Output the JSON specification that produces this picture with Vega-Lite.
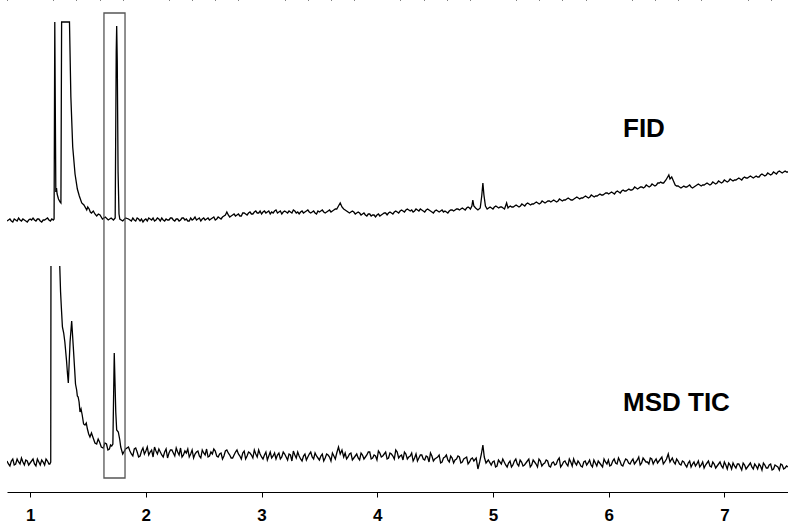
{
  "$schema": "https://vega.github.io/schema/vega-lite/v6.json",
  "width": 781,
  "height": 492,
  "autosize": {"type": "none"},
  "padding": {"left": 7, "top": 0, "right": 0, "bottom": 32},
  "background": "white",
  "config": {
    "view": {"stroke": null},
    "axis": {"grid": false}
  },
  "datasets": {
    "fid": [
      {"t":0.800,"v":271},{"t":0.825,"v":273},{"t":0.850,"v":270},{"t":0.875,"v":272},{"t":0.900,"v":274},
      {"t":0.925,"v":271},{"t":0.950,"v":272},{"t":0.975,"v":270},{"t":1.000,"v":273},{"t":1.025,"v":274},
      {"t":1.050,"v":271},{"t":1.075,"v":273},{"t":1.100,"v":270},{"t":1.125,"v":272},{"t":1.150,"v":274},
      {"t":1.175,"v":271},{"t":1.200,"v":272},{"t":1.207,"v":273},{"t":1.213,"v":470},{"t":1.222,"v":300},
      {"t":1.228,"v":304},{"t":1.233,"v":298},{"t":1.245,"v":293},{"t":1.258,"v":290},{"t":1.266,"v":289},
      {"t":1.272,"v":470},{"t":1.340,"v":470},{"t":1.352,"v":395},{"t":1.368,"v":345},{"t":1.388,"v":318},
      {"t":1.408,"v":303},{"t":1.425,"v":296},{"t":1.446,"v":289},{"t":1.465,"v":287},{"t":1.489,"v":282},
      {"t":1.498,"v":285},{"t":1.510,"v":283},{"t":1.520,"v":280},{"t":1.530,"v":279},{"t":1.546,"v":281},
      {"t":1.560,"v":278},{"t":1.575,"v":276},{"t":1.590,"v":278},{"t":1.604,"v":277},
      {"t":1.625,"v":273},{"t":1.650,"v":275},{"t":1.675,"v":272},{"t":1.700,"v":274},{"t":1.720,"v":272},
      {"t":1.735,"v":274},{"t":1.744,"v":440},{"t":1.748,"v":466},{"t":1.753,"v":430},{"t":1.760,"v":320},
      {"t":1.768,"v":278},{"t":1.775,"v":273},{"t":1.800,"v":271},{"t":1.825,"v":274},
      {"t":1.850,"v":273},{"t":1.875,"v":271},{"t":1.900,"v":272},{"t":1.925,"v":274},{"t":1.950,"v":271},
      {"t":1.975,"v":270},{"t":2.000,"v":273},{"t":2.025,"v":274},{"t":2.050,"v":272},{"t":2.075,"v":271},
      {"t":2.100,"v":274},{"t":2.125,"v":271},{"t":2.150,"v":272},{"t":2.175,"v":273},{"t":2.200,"v":272},
      {"t":2.225,"v":274},{"t":2.250,"v":271},{"t":2.275,"v":273},{"t":2.300,"v":272},{"t":2.325,"v":274},
      {"t":2.350,"v":273},{"t":2.375,"v":271},{"t":2.400,"v":272},{"t":2.425,"v":275},{"t":2.450,"v":273},
      {"t":2.475,"v":271},{"t":2.500,"v":274},{"t":2.525,"v":273},{"t":2.550,"v":272},{"t":2.575,"v":274},
      {"t":2.600,"v":272},{"t":2.625,"v":275},{"t":2.650,"v":273},{"t":2.675,"v":276},{"t":2.700,"v":280},
      {"t":2.725,"v":275},{"t":2.750,"v":277},{"t":2.775,"v":276},{"t":2.800,"v":278},{"t":2.825,"v":276},
      {"t":2.850,"v":279},{"t":2.875,"v":277},{"t":2.900,"v":280},{"t":2.925,"v":278},{"t":2.950,"v":281},
      {"t":2.975,"v":279},{"t":3.000,"v":278},{"t":3.025,"v":281},{"t":3.050,"v":280},{"t":3.075,"v":278},
      {"t":3.100,"v":279},{"t":3.125,"v":282},{"t":3.150,"v":280},{"t":3.175,"v":278},{"t":3.200,"v":281},
      {"t":3.225,"v":279},{"t":3.250,"v":280},{"t":3.275,"v":282},{"t":3.300,"v":279},{"t":3.325,"v":278},
      {"t":3.350,"v":281},{"t":3.375,"v":280},{"t":3.400,"v":282},{"t":3.425,"v":279},{"t":3.450,"v":281},
      {"t":3.475,"v":278},{"t":3.500,"v":280},{"t":3.525,"v":282},{"t":3.550,"v":279},{"t":3.575,"v":281},
      {"t":3.600,"v":280},{"t":3.625,"v":282},{"t":3.650,"v":283},{"t":3.665,"v":286},{"t":3.680,"v":289},
      {"t":3.695,"v":285},{"t":3.710,"v":283},{"t":3.735,"v":281},{"t":3.760,"v":279},{"t":3.785,"v":281},
      {"t":3.810,"v":278},{"t":3.835,"v":280},{"t":3.860,"v":277},{"t":3.885,"v":279},{"t":3.910,"v":276},
      {"t":3.935,"v":278},{"t":3.960,"v":277},{"t":3.985,"v":275},{"t":4.010,"v":278},{"t":4.035,"v":277},
      {"t":4.060,"v":279},{"t":4.085,"v":277},{"t":4.110,"v":280},{"t":4.135,"v":278},{"t":4.160,"v":281},
      {"t":4.185,"v":279},{"t":4.210,"v":282},{"t":4.235,"v":280},{"t":4.260,"v":283},{"t":4.285,"v":281},
      {"t":4.310,"v":280},{"t":4.335,"v":283},{"t":4.360,"v":281},{"t":4.385,"v":282},{"t":4.410,"v":280},
      {"t":4.435,"v":283},{"t":4.460,"v":281},{"t":4.485,"v":279},{"t":4.510,"v":282},{"t":4.535,"v":280},
      {"t":4.560,"v":282},{"t":4.585,"v":281},{"t":4.610,"v":279},{"t":4.635,"v":282},{"t":4.660,"v":281},
      {"t":4.685,"v":283},{"t":4.710,"v":282},{"t":4.735,"v":284},{"t":4.760,"v":282},{"t":4.785,"v":285},
      {"t":4.805,"v":283},{"t":4.818,"v":286},{"t":4.826,"v":292},{"t":4.835,"v":286},{"t":4.850,"v":284},
      {"t":4.870,"v":282},{"t":4.890,"v":284},{"t":4.903,"v":296},{"t":4.913,"v":309},{"t":4.922,"v":297},
      {"t":4.935,"v":286},{"t":4.950,"v":283},{"t":4.975,"v":285},{"t":5.000,"v":283},{"t":5.025,"v":286},
      {"t":5.050,"v":284},{"t":5.075,"v":285},{"t":5.100,"v":283},{"t":5.118,"v":289},{"t":5.130,"v":284},
      {"t":5.150,"v":286},{"t":5.175,"v":285},{"t":5.200,"v":287},{"t":5.225,"v":285},{"t":5.250,"v":288},
      {"t":5.275,"v":286},{"t":5.300,"v":289},{"t":5.325,"v":287},{"t":5.350,"v":288},{"t":5.375,"v":290},
      {"t":5.400,"v":288},{"t":5.425,"v":291},{"t":5.450,"v":289},{"t":5.475,"v":291},{"t":5.500,"v":290},
      {"t":5.525,"v":292},{"t":5.550,"v":290},{"t":5.575,"v":293},{"t":5.600,"v":291},{"t":5.625,"v":292},
      {"t":5.650,"v":294},{"t":5.675,"v":292},{"t":5.700,"v":293},{"t":5.725,"v":295},{"t":5.750,"v":293},
      {"t":5.775,"v":294},{"t":5.800,"v":296},{"t":5.825,"v":294},{"t":5.850,"v":297},{"t":5.875,"v":295},
      {"t":5.900,"v":296},{"t":5.925,"v":298},{"t":5.950,"v":297},{"t":5.975,"v":299},{"t":6.000,"v":298},
      {"t":6.025,"v":300},{"t":6.050,"v":298},{"t":6.075,"v":301},{"t":6.100,"v":299},{"t":6.125,"v":302},
      {"t":6.150,"v":301},{"t":6.175,"v":303},{"t":6.200,"v":302},{"t":6.225,"v":305},{"t":6.250,"v":303},
      {"t":6.275,"v":305},{"t":6.300,"v":304},{"t":6.325,"v":307},{"t":6.350,"v":305},{"t":6.375,"v":308},
      {"t":6.400,"v":306},{"t":6.425,"v":309},{"t":6.450,"v":310},{"t":6.475,"v":309},{"t":6.495,"v":312},
      {"t":6.510,"v":315},{"t":6.520,"v":317},{"t":6.530,"v":313},{"t":6.545,"v":315},{"t":6.560,"v":311},
      {"t":6.575,"v":307},{"t":6.600,"v":306},{"t":6.625,"v":304},{"t":6.650,"v":306},{"t":6.675,"v":305},
      {"t":6.700,"v":307},{"t":6.725,"v":304},{"t":6.750,"v":306},{"t":6.775,"v":308},{"t":6.800,"v":306},
      {"t":6.825,"v":307},{"t":6.850,"v":309},{"t":6.875,"v":307},{"t":6.900,"v":310},{"t":6.925,"v":308},
      {"t":6.950,"v":311},{"t":6.975,"v":309},{"t":7.000,"v":312},{"t":7.025,"v":310},{"t":7.050,"v":313},
      {"t":7.075,"v":311},{"t":7.100,"v":312},{"t":7.125,"v":314},{"t":7.150,"v":312},{"t":7.175,"v":315},
      {"t":7.200,"v":314},{"t":7.225,"v":316},{"t":7.250,"v":314},{"t":7.275,"v":316},{"t":7.300,"v":315},
      {"t":7.325,"v":318},{"t":7.350,"v":316},{"t":7.375,"v":319},{"t":7.400,"v":317},{"t":7.425,"v":320},
      {"t":7.450,"v":318},{"t":7.475,"v":321},{"t":7.500,"v":319},{"t":7.525,"v":321},{"t":7.550,"v":320},
      {"t":0.8125,"v":272},{"t":0.8375,"v":271},{"t":0.8625,"v":273},{"t":0.8875,"v":271},{"t":0.9125,"v":272},
      {"t":0.9375,"v":273},{"t":0.9625,"v":271},{"t":0.9875,"v":272},{"t":1.0125,"v":272},{"t":1.0375,"v":272},
      {"t":1.0625,"v":273},{"t":1.0875,"v":271},{"t":1.1125,"v":272},{"t":1.1375,"v":273},{"t":1.1625,"v":272},
      {"t":1.1875,"v":273},
      {"t":1.8625,"v":272},{"t":1.8875,"v":274},{"t":1.9125,"v":271},{"t":1.9375,"v":273},{"t":1.9625,"v":273},
      {"t":1.9875,"v":272},{"t":2.0125,"v":271},{"t":2.0375,"v":273},{"t":2.0625,"v":274},{"t":2.0875,"v":272},
      {"t":2.1125,"v":273},{"t":2.1375,"v":274},{"t":2.1625,"v":271},{"t":2.1875,"v":272},{"t":2.2125,"v":274},
      {"t":2.2375,"v":272},{"t":2.2625,"v":273},{"t":2.2875,"v":271},{"t":2.3125,"v":274},{"t":2.3375,"v":272},
      {"t":2.3625,"v":271},{"t":2.3875,"v":274},{"t":2.4125,"v":273},{"t":2.4375,"v":272},{"t":2.4625,"v":274},
      {"t":2.4875,"v":273},{"t":2.5125,"v":272},{"t":2.5375,"v":274},{"t":2.5625,"v":273},{"t":2.5875,"v":275},
      {"t":2.6125,"v":273},{"t":2.6375,"v":274},{"t":2.6625,"v":275},{"t":2.6875,"v":277},{"t":2.7125,"v":277},
      {"t":2.7375,"v":276},{"t":2.7625,"v":278},{"t":2.7875,"v":277},{"t":2.8125,"v":276},{"t":2.8375,"v":279},
      {"t":2.8625,"v":278},{"t":2.8875,"v":279},{"t":2.9125,"v":278},{"t":2.9375,"v":280},{"t":2.9625,"v":279},
      {"t":2.9875,"v":281},{"t":3.0125,"v":280},{"t":3.0375,"v":279},{"t":3.0625,"v":281},{"t":3.0875,"v":280},
      {"t":3.1125,"v":281},{"t":3.1375,"v":279},{"t":3.1625,"v":281},{"t":3.1875,"v":280},{"t":3.2125,"v":280},
      {"t":3.2375,"v":281},{"t":3.2625,"v":279},{"t":3.2875,"v":281},{"t":3.3125,"v":280},{"t":3.3375,"v":280},
      {"t":3.3625,"v":279},{"t":3.3875,"v":281},{"t":3.4125,"v":280},{"t":3.4375,"v":280},{"t":3.4625,"v":279},
      {"t":3.4875,"v":281},{"t":3.5125,"v":281},{"t":3.5375,"v":280},{"t":3.5625,"v":280},{"t":3.5875,"v":282},
      {"t":3.6125,"v":281},{"t":3.6375,"v":283},
      {"t":3.7225,"v":282},{"t":3.7475,"v":280},{"t":3.7725,"v":280},{"t":3.7975,"v":280},{"t":3.8225,"v":279},
      {"t":3.8475,"v":279},{"t":3.8725,"v":278},{"t":3.8975,"v":277},{"t":3.9225,"v":278},{"t":3.9475,"v":276},
      {"t":3.9725,"v":277},{"t":3.9975,"v":277},{"t":4.0225,"v":276},{"t":4.0475,"v":278},{"t":4.0725,"v":279},
      {"t":4.0975,"v":279},{"t":4.1225,"v":279},{"t":4.1475,"v":280},{"t":4.1725,"v":280},{"t":4.1975,"v":281},
      {"t":4.2225,"v":281},{"t":4.2475,"v":282},{"t":4.2725,"v":282},{"t":4.2975,"v":282},{"t":4.3225,"v":281},
      {"t":4.3475,"v":282},{"t":4.3725,"v":283},{"t":4.3975,"v":281},{"t":4.4225,"v":282},{"t":4.4475,"v":282},
      {"t":4.4725,"v":280},{"t":4.4975,"v":281},{"t":4.5225,"v":281},{"t":4.5475,"v":281},{"t":4.5725,"v":280},
      {"t":4.5975,"v":280},{"t":4.6225,"v":281},{"t":4.6475,"v":282},{"t":4.6725,"v":282},{"t":4.6975,"v":283},
      {"t":4.7225,"v":283},{"t":4.7475,"v":283},{"t":4.7725,"v":284},{"t":4.7975,"v":284},
      {"t":4.9875,"v":284},{"t":5.0125,"v":285},{"t":5.0375,"v":285},{"t":5.0625,"v":285},{"t":5.0875,"v":284},
      {"t":5.1375,"v":285},{"t":5.1625,"v":285},{"t":5.1875,"v":286},{"t":5.2125,"v":286},{"t":5.2375,"v":286},
      {"t":5.2625,"v":287},{"t":5.2875,"v":288},{"t":5.3125,"v":288},{"t":5.3375,"v":288},{"t":5.3625,"v":289},
      {"t":5.3875,"v":289},{"t":5.4125,"v":289},{"t":5.4375,"v":290},{"t":5.4625,"v":290},{"t":5.4875,"v":291},
      {"t":5.5125,"v":291},{"t":5.5375,"v":291},{"t":5.5625,"v":291},{"t":5.5875,"v":292},{"t":5.6125,"v":292},
      {"t":5.6375,"v":293},{"t":5.6625,"v":293},{"t":5.6875,"v":292},{"t":5.7125,"v":294},{"t":5.7375,"v":294},
      {"t":5.7625,"v":294},{"t":5.7875,"v":295},{"t":5.8125,"v":295},{"t":5.8375,"v":295},{"t":5.8625,"v":296},
      {"t":5.8875,"v":296},{"t":5.9125,"v":297},{"t":5.9375,"v":297},{"t":5.9625,"v":298},{"t":5.9875,"v":299},
      {"t":6.0125,"v":299},{"t":6.0375,"v":299},{"t":6.0625,"v":300},{"t":6.0875,"v":300},{"t":6.1125,"v":301},
      {"t":6.1375,"v":301},{"t":6.1625,"v":302},{"t":6.1875,"v":302},{"t":6.2125,"v":303},{"t":6.2375,"v":304},
      {"t":6.2625,"v":304},{"t":6.2875,"v":305},{"t":6.3125,"v":305},{"t":6.3375,"v":306},{"t":6.3625,"v":306},
      {"t":6.3875,"v":307},{"t":6.4125,"v":307},{"t":6.4375,"v":309},{"t":6.4625,"v":309},
      {"t":6.5875,"v":306},{"t":6.6125,"v":305},{"t":6.6375,"v":305},{"t":6.6625,"v":305},{"t":6.6875,"v":306},
      {"t":6.7125,"v":305},{"t":6.7375,"v":305},{"t":6.7625,"v":307},{"t":6.7875,"v":307},{"t":6.8125,"v":307},
      {"t":6.8375,"v":308},{"t":6.8625,"v":308},{"t":6.8875,"v":308},{"t":6.9125,"v":309},{"t":6.9375,"v":309},
      {"t":6.9625,"v":310},{"t":6.9875,"v":310},{"t":7.0125,"v":311},{"t":7.0375,"v":311},{"t":7.0625,"v":312},
      {"t":7.0875,"v":312},{"t":7.1125,"v":313},{"t":7.1375,"v":313},{"t":7.1625,"v":314},{"t":7.1875,"v":314},
      {"t":7.2125,"v":315},{"t":7.2375,"v":315},{"t":7.2625,"v":315},{"t":7.2875,"v":315},{"t":7.3125,"v":317},
      {"t":7.3375,"v":317},{"t":7.3625,"v":317},{"t":7.3875,"v":318},{"t":7.4125,"v":318},{"t":7.4375,"v":319},
      {"t":7.4625,"v":320},{"t":7.4875,"v":320},{"t":7.5125,"v":320},{"t":7.5375,"v":320}
    ],
    "msd": [
      {"t":0.800,"v":31},{"t":0.825,"v":26},{"t":0.850,"v":33},{"t":0.875,"v":28},{"t":0.900,"v":30},
      {"t":0.925,"v":34},{"t":0.950,"v":27},{"t":0.975,"v":31},{"t":1.000,"v":29},{"t":1.025,"v":33},
      {"t":1.050,"v":26},{"t":1.075,"v":30},{"t":1.100,"v":32},{"t":1.125,"v":27},{"t":1.150,"v":31},
      {"t":1.170,"v":28},{"t":1.178,"v":30},{"t":1.180,"v":226},{"t":1.220,"v":null},
      {"t":1.256,"v":226},{"t":1.263,"v":200},{"t":1.270,"v":184},{"t":1.279,"v":165},{"t":1.290,"v":159},
      {"t":1.300,"v":150},{"t":1.314,"v":132},{"t":1.323,"v":118},{"t":1.330,"v":109},{"t":1.345,"v":150},
      {"t":1.359,"v":171},{"t":1.366,"v":158},{"t":1.373,"v":145},{"t":1.385,"v":122},{"t":1.392,"v":108},
      {"t":1.402,"v":102},{"t":1.408,"v":96},{"t":1.415,"v":95},{"t":1.423,"v":90},{"t":1.431,"v":80},
      {"t":1.440,"v":83},{"t":1.450,"v":77},{"t":1.462,"v":68},{"t":1.474,"v":67},{"t":1.485,"v":69},
      {"t":1.495,"v":63},{"t":1.506,"v":58},{"t":1.517,"v":55},{"t":1.530,"v":59},{"t":1.545,"v":54},
      {"t":1.560,"v":49},{"t":1.575,"v":48},{"t":1.588,"v":53},{"t":1.600,"v":50},{"t":1.615,"v":45},
      {"t":1.632,"v":44},{"t":1.646,"v":49},{"t":1.660,"v":48},{"t":1.672,"v":42},{"t":1.685,"v":43},
      {"t":1.695,"v":47},{"t":1.705,"v":46},{"t":1.715,"v":48},{"t":1.727,"v":139},
      {"t":1.740,"v":80},{"t":1.748,"v":62},{"t":1.762,"v":60},{"t":1.775,"v":52},{"t":1.783,"v":45},
      {"t":1.800,"v":38},{"t":1.825,"v":43},
      {"t":1.850,"v":45},{"t":1.875,"v":38},{"t":1.900,"v":43},{"t":1.925,"v":40},{"t":1.950,"v":36},
      {"t":1.975,"v":44},{"t":2.000,"v":41},{"t":2.025,"v":37},{"t":2.050,"v":42},{"t":2.075,"v":45},
      {"t":2.100,"v":38},{"t":2.125,"v":40},{"t":2.150,"v":35},{"t":2.175,"v":43},{"t":2.200,"v":39},
      {"t":2.225,"v":42},{"t":2.250,"v":36},{"t":2.275,"v":40},{"t":2.300,"v":44},{"t":2.325,"v":37},
      {"t":2.350,"v":39},{"t":2.375,"v":35},{"t":2.400,"v":42},{"t":2.425,"v":38},{"t":2.450,"v":41},
      {"t":2.475,"v":34},{"t":2.500,"v":39},{"t":2.525,"v":43},{"t":2.550,"v":36},{"t":2.575,"v":38},
      {"t":2.600,"v":41},{"t":2.625,"v":35},{"t":2.650,"v":39},{"t":2.675,"v":36},{"t":2.700,"v":42},
      {"t":2.725,"v":37},{"t":2.750,"v":34},{"t":2.775,"v":40},{"t":2.800,"v":38},{"t":2.825,"v":33},
      {"t":2.850,"v":41},{"t":2.875,"v":36},{"t":2.900,"v":39},{"t":2.925,"v":34},{"t":2.950,"v":38},
      {"t":2.975,"v":42},{"t":3.000,"v":35},{"t":3.025,"v":37},{"t":3.050,"v":32},{"t":3.075,"v":40},
      {"t":3.100,"v":36},{"t":3.125,"v":33},{"t":3.150,"v":39},{"t":3.175,"v":35},{"t":3.200,"v":38},
      {"t":3.225,"v":32},{"t":3.250,"v":37},{"t":3.275,"v":41},{"t":3.300,"v":34},{"t":3.325,"v":36},
      {"t":3.350,"v":31},{"t":3.375,"v":38},{"t":3.400,"v":35},{"t":3.425,"v":40},{"t":3.450,"v":33},
      {"t":3.475,"v":36},{"t":3.500,"v":32},{"t":3.525,"v":38},{"t":3.550,"v":34},{"t":3.575,"v":37},
      {"t":3.600,"v":31},{"t":3.625,"v":36},{"t":3.650,"v":39},{"t":3.665,"v":45},{"t":3.680,"v":38},
      {"t":3.695,"v":42},{"t":3.710,"v":35},{"t":3.735,"v":33},{"t":3.760,"v":38},{"t":3.785,"v":32},
      {"t":3.810,"v":36},{"t":3.835,"v":34},{"t":3.860,"v":39},{"t":3.885,"v":33},{"t":3.910,"v":37},
      {"t":3.935,"v":40},{"t":3.960,"v":34},{"t":3.985,"v":36},{"t":4.010,"v":41},{"t":4.035,"v":35},
      {"t":4.060,"v":38},{"t":4.085,"v":33},{"t":4.110,"v":39},{"t":4.135,"v":36},{"t":4.160,"v":42},
      {"t":4.185,"v":34},{"t":4.210,"v":37},{"t":4.235,"v":40},{"t":4.260,"v":33},{"t":4.285,"v":36},
      {"t":4.310,"v":31},{"t":4.335,"v":38},{"t":4.360,"v":34},{"t":4.385,"v":37},{"t":4.410,"v":32},
      {"t":4.435,"v":35},{"t":4.460,"v":39},{"t":4.485,"v":31},{"t":4.510,"v":34},{"t":4.535,"v":37},
      {"t":4.560,"v":30},{"t":4.585,"v":35},{"t":4.610,"v":32},{"t":4.635,"v":36},{"t":4.660,"v":29},
      {"t":4.685,"v":33},{"t":4.710,"v":35},{"t":4.735,"v":30},{"t":4.760,"v":34},{"t":4.785,"v":28},
      {"t":4.810,"v":33},{"t":4.835,"v":31},{"t":4.855,"v":34},{"t":4.870,"v":23},{"t":4.885,"v":30},
      {"t":4.900,"v":38},{"t":4.913,"v":47},{"t":4.925,"v":35},{"t":4.940,"v":29},{"t":4.960,"v":32},
      {"t":4.985,"v":27},{"t":5.010,"v":31},{"t":5.035,"v":26},{"t":5.060,"v":30},{"t":5.085,"v":33},
      {"t":5.110,"v":27},{"t":5.135,"v":29},{"t":5.160,"v":25},{"t":5.185,"v":31},{"t":5.210,"v":28},
      {"t":5.235,"v":32},{"t":5.260,"v":26},{"t":5.285,"v":29},{"t":5.310,"v":33},{"t":5.335,"v":27},
      {"t":5.360,"v":30},{"t":5.385,"v":25},{"t":5.410,"v":31},{"t":5.435,"v":28},{"t":5.460,"v":32},
      {"t":5.485,"v":26},{"t":5.510,"v":29},{"t":5.535,"v":27},{"t":5.560,"v":32},{"t":5.585,"v":25},
      {"t":5.610,"v":30},{"t":5.635,"v":28},{"t":5.660,"v":33},{"t":5.685,"v":26},{"t":5.710,"v":29},
      {"t":5.735,"v":31},{"t":5.760,"v":26},{"t":5.785,"v":30},{"t":5.810,"v":27},{"t":5.835,"v":32},
      {"t":5.860,"v":25},{"t":5.885,"v":29},{"t":5.910,"v":31},{"t":5.935,"v":27},{"t":5.960,"v":33},
      {"t":5.985,"v":28},{"t":6.010,"v":26},{"t":6.035,"v":31},{"t":6.060,"v":29},{"t":6.085,"v":34},
      {"t":6.110,"v":27},{"t":6.135,"v":30},{"t":6.160,"v":32},{"t":6.185,"v":28},{"t":6.210,"v":33},
      {"t":6.235,"v":30},{"t":6.260,"v":35},{"t":6.285,"v":29},{"t":6.310,"v":32},{"t":6.335,"v":30},
      {"t":6.360,"v":34},{"t":6.385,"v":28},{"t":6.410,"v":33},{"t":6.435,"v":31},{"t":6.460,"v":35},
      {"t":6.485,"v":30},{"t":6.500,"v":33},{"t":6.515,"v":38},{"t":6.530,"v":30},{"t":6.550,"v":34},
      {"t":6.575,"v":28},{"t":6.600,"v":31},{"t":6.625,"v":27},{"t":6.650,"v":30},{"t":6.675,"v":25},
      {"t":6.700,"v":31},{"t":6.725,"v":28},{"t":6.750,"v":26},{"t":6.775,"v":31},{"t":6.800,"v":27},
      {"t":6.825,"v":24},{"t":6.850,"v":29},{"t":6.875,"v":26},{"t":6.900,"v":30},{"t":6.925,"v":24},
      {"t":6.950,"v":28},{"t":6.975,"v":26},{"t":7.000,"v":30},{"t":7.025,"v":23},{"t":7.050,"v":27},
      {"t":7.075,"v":29},{"t":7.100,"v":24},{"t":7.125,"v":28},{"t":7.150,"v":22},{"t":7.175,"v":27},
      {"t":7.200,"v":25},{"t":7.225,"v":29},{"t":7.250,"v":23},{"t":7.275,"v":26},{"t":7.300,"v":28},
      {"t":7.325,"v":22},{"t":7.350,"v":27},{"t":7.375,"v":24},{"t":7.400,"v":28},{"t":7.425,"v":23},
      {"t":7.450,"v":26},{"t":7.475,"v":22},{"t":7.500,"v":27},{"t":7.525,"v":24},{"t":7.550,"v":25},
      {"t":0.8125,"v":28},{"t":0.8375,"v":31},{"t":0.8625,"v":27},{"t":0.8875,"v":33},{"t":0.9125,"v":28},
      {"t":0.9375,"v":30},{"t":0.9625,"v":32},{"t":0.9875,"v":27},{"t":1.0125,"v":31},{"t":1.0375,"v":28},
      {"t":1.0625,"v":33},{"t":1.0875,"v":27},{"t":1.1125,"v":30},{"t":1.1375,"v":33},{"t":1.1625,"v":28},
      {"t":1.8625,"v":41},{"t":1.8875,"v":36},{"t":1.9125,"v":44},{"t":1.9375,"v":35},{"t":1.9625,"v":41},
      {"t":1.9875,"v":38},{"t":2.0125,"v":45},{"t":2.0375,"v":40},{"t":2.0625,"v":35},{"t":2.0875,"v":41},
      {"t":2.1125,"v":43},{"t":2.1375,"v":37},{"t":2.1625,"v":40},{"t":2.1875,"v":34},{"t":2.2125,"v":42},
      {"t":2.2375,"v":39},{"t":2.2625,"v":44},{"t":2.2875,"v":37},{"t":2.3125,"v":35},{"t":2.3375,"v":41},
      {"t":2.3625,"v":43},{"t":2.3875,"v":38},{"t":2.4125,"v":34},{"t":2.4375,"v":40},{"t":2.4625,"v":36},
      {"t":2.4875,"v":42},{"t":2.5125,"v":37},{"t":2.5375,"v":35},{"t":2.5625,"v":40},{"t":2.5875,"v":43},
      {"t":2.6125,"v":36},{"t":2.6375,"v":38},{"t":2.6625,"v":33},{"t":2.6875,"v":41},{"t":2.7125,"v":39},
      {"t":2.7375,"v":34},{"t":2.7625,"v":37},{"t":2.7875,"v":42},{"t":2.8125,"v":36},{"t":2.8375,"v":39},
      {"t":2.8625,"v":33},{"t":2.8875,"v":40},{"t":2.9125,"v":37},{"t":2.9375,"v":42},{"t":2.9625,"v":35},
      {"t":2.9875,"v":38},{"t":3.0125,"v":33},{"t":3.0375,"v":40},{"t":3.0625,"v":36},{"t":3.0875,"v":34},
      {"t":3.1125,"v":39},{"t":3.1375,"v":37},{"t":3.1625,"v":33},{"t":3.1875,"v":40},{"t":3.2125,"v":35},
      {"t":3.2375,"v":38},{"t":3.2625,"v":31},{"t":3.2875,"v":37},{"t":3.3125,"v":40},{"t":3.3375,"v":33},
      {"t":3.3625,"v":36},{"t":3.3875,"v":32},{"t":3.4125,"v":38},{"t":3.4375,"v":35},{"t":3.4625,"v":39},
      {"t":3.4875,"v":34},{"t":3.5125,"v":36},{"t":3.5375,"v":31},{"t":3.5625,"v":38},{"t":3.5875,"v":35},
      {"t":3.6125,"v":39},{"t":3.6375,"v":33},
      {"t":3.7225,"v":39},{"t":3.7475,"v":35},{"t":3.7725,"v":39},{"t":3.7975,"v":34},{"t":3.8225,"v":38},
      {"t":3.8475,"v":32},{"t":3.8725,"v":37},{"t":3.8975,"v":35},{"t":3.9225,"v":40},{"t":3.9475,"v":33},
      {"t":3.9725,"v":37},{"t":3.9975,"v":32},{"t":4.0225,"v":39},{"t":4.0475,"v":36},{"t":4.0725,"v":40},
      {"t":4.0975,"v":34},{"t":4.1225,"v":38},{"t":4.1475,"v":33},{"t":4.1725,"v":40},{"t":4.1975,"v":36},
      {"t":4.2225,"v":32},{"t":4.2475,"v":38},{"t":4.2725,"v":35},{"t":4.2975,"v":39},{"t":4.3225,"v":34},
      {"t":4.3475,"v":31},{"t":4.3725,"v":37},{"t":4.3975,"v":33},{"t":4.4225,"v":36},{"t":4.4475,"v":30},
      {"t":4.4725,"v":36},{"t":4.4975,"v":33},{"t":4.5225,"v":35},{"t":4.5475,"v":29},{"t":4.5725,"v":34},
      {"t":4.5975,"v":37},{"t":4.6225,"v":30},{"t":4.6475,"v":34},{"t":4.6725,"v":32},{"t":4.6975,"v":36},
      {"t":4.7225,"v":29},{"t":4.7475,"v":33},{"t":4.7725,"v":35},{"t":4.7975,"v":30},{"t":4.8225,"v":34},
      {"t":4.9975,"v":30},{"t":5.0225,"v":25},{"t":5.0475,"v":32},{"t":5.0725,"v":28},{"t":5.0975,"v":30},
      {"t":5.1225,"v":25},{"t":5.1475,"v":31},{"t":5.1725,"v":27},{"t":5.1975,"v":33},{"t":5.2225,"v":26},
      {"t":5.2475,"v":30},{"t":5.2725,"v":27},{"t":5.2975,"v":31},{"t":5.3225,"v":25},{"t":5.3475,"v":32},
      {"t":5.3725,"v":28},{"t":5.3975,"v":33},{"t":5.4225,"v":26},{"t":5.4475,"v":29},{"t":5.4725,"v":31},
      {"t":5.4975,"v":25},{"t":5.5225,"v":30},{"t":5.5475,"v":28},{"t":5.5725,"v":34},{"t":5.5975,"v":27},
      {"t":5.6225,"v":31},{"t":5.6475,"v":26},{"t":5.6725,"v":30},{"t":5.6975,"v":33},{"t":5.7225,"v":27},
      {"t":5.7475,"v":29},{"t":5.7725,"v":25},{"t":5.7975,"v":31},{"t":5.8225,"v":29},{"t":5.8475,"v":27},
      {"t":5.8725,"v":32},{"t":5.8975,"v":26},{"t":5.9225,"v":29},{"t":5.9475,"v":25},{"t":5.9725,"v":30},
      {"t":5.9975,"v":32},{"t":6.0225,"v":27},{"t":6.0475,"v":33},{"t":6.0725,"v":28},{"t":6.0975,"v":31},
      {"t":6.1225,"v":26},{"t":6.1475,"v":33},{"t":6.1725,"v":29},{"t":6.1975,"v":31},{"t":6.2225,"v":28},
      {"t":6.2475,"v":32},{"t":6.2725,"v":27},{"t":6.2975,"v":34},{"t":6.3225,"v":30},{"t":6.3475,"v":28},
      {"t":6.3725,"v":33},{"t":6.3975,"v":31},{"t":6.4225,"v":29},{"t":6.4475,"v":33},{"t":6.4725,"v":28},
      {"t":6.5625,"v":30},{"t":6.5875,"v":33},{"t":6.6125,"v":28},{"t":6.6375,"v":31},{"t":6.6625,"v":27},
      {"t":6.6875,"v":29},{"t":6.7125,"v":25},{"t":6.7375,"v":30},{"t":6.7625,"v":28},{"t":6.7875,"v":25},
      {"t":6.8125,"v":30},{"t":6.8375,"v":27},{"t":6.8625,"v":31},{"t":6.8875,"v":25},{"t":6.9125,"v":28},
      {"t":6.9375,"v":26},{"t":6.9625,"v":30},{"t":6.9875,"v":24},{"t":7.0125,"v":27},{"t":7.0375,"v":29},
      {"t":7.0625,"v":23},{"t":7.0875,"v":26},{"t":7.1125,"v":28},{"t":7.1375,"v":25},{"t":7.1625,"v":29},
      {"t":7.1875,"v":23},{"t":7.2125,"v":27},{"t":7.2375,"v":25},{"t":7.2625,"v":28},{"t":7.2875,"v":23},
      {"t":7.3125,"v":26},{"t":7.3375,"v":29},{"t":7.3625,"v":24},{"t":7.3875,"v":27},{"t":7.4125,"v":22},
      {"t":7.4375,"v":27},{"t":7.4625,"v":25},{"t":7.4875,"v":28},{"t":7.5125,"v":23},{"t":7.5375,"v":26}
    ]
  },
  "resolve": {"axis": {"x": "independent"}},
  "layer": [
    {
      "data": {"name": "fid"},
      "mark": {"type": "line", "color": "black", "strokeWidth": 1.3, "clip": true},
      "encoding": {
        "x": {
          "field": "t", "type": "quantitative",
          "scale": {"domain": [0.8, 7.55], "nice": false, "zero": false},
          "axis": {
            "title": null,
            "values": [1, 2, 3, 4, 5, 6, 7],
            "format": "d",
            "tickSize": 5,
            "tickColor": "black",
            "tickWidth": 1,
            "domainColor": "black",
            "domainWidth": 1,
            "labelColor": "black",
            "labelFont": "Liberation Sans Narrow, Liberation Sans, sans-serif",
            "labelFontWeight": "bold",
            "labelFontSize": 17,
            "labelPadding": 10,
            "labelFlush": false,
            "labelOverlap": false
          }
        },
        "y": {
          "field": "v", "type": "quantitative",
          "scale": {"domain": [0, 492], "nice": false, "zero": false},
          "axis": null
        }
      }
    },
    {
      "data": {"name": "msd"},
      "mark": {"type": "line", "color": "black", "strokeWidth": 1.3, "clip": true, "invalid": "break-paths-filter-domains"},
      "encoding": {
        "x": {
          "field": "t", "type": "quantitative",
          "axis": {
            "title": null,
            "values": [0.8, 1.2, 1.4, 1.6, 1.8, 2.2, 2.4, 2.6, 2.8, 3.2, 3.4, 3.6, 3.8, 4.2, 4.4, 4.6, 4.8, 5.2, 5.4, 5.6, 5.8, 6.2, 6.4, 6.6, 6.8, 7.2, 7.4],
            "labels": false,
            "domain": false,
            "tickSize": 3,
            "tickColor": "black",
            "tickWidth": 1
          }
        },
        "y": {"field": "v", "type": "quantitative", "axis": null}
      }
    },
    {
      "data": {"values": [{"t0": 1.638, "t1": 1.820, "v0": 14, "v1": 479}]},
      "mark": {"type": "rect", "filled": false, "color": "#555555", "strokeWidth": 1.3},
      "encoding": {
        "x": {"field": "t0", "type": "quantitative", "axis": null},
        "x2": {"field": "t1"},
        "y": {"field": "v0", "type": "quantitative", "axis": null},
        "y2": {"field": "v1"}
      }
    },
    {
      "data": {"values": [
        {"label": "FID", "t": 6.124, "v": 355},
        {"label": "MSD TIC", "t": 6.124, "v": 81}
      ]},
      "mark": {
        "type": "text", "align": "left", "baseline": "alphabetic",
        "font": "Liberation Sans Narrow, Liberation Sans, sans-serif",
        "fontWeight": "bold", "fontSize": 26, "color": "black"
      },
      "encoding": {
        "x": {"field": "t", "type": "quantitative", "axis": null},
        "y": {"field": "v", "type": "quantitative", "axis": null},
        "text": {"field": "label"}
      }
    }
  ]
}
